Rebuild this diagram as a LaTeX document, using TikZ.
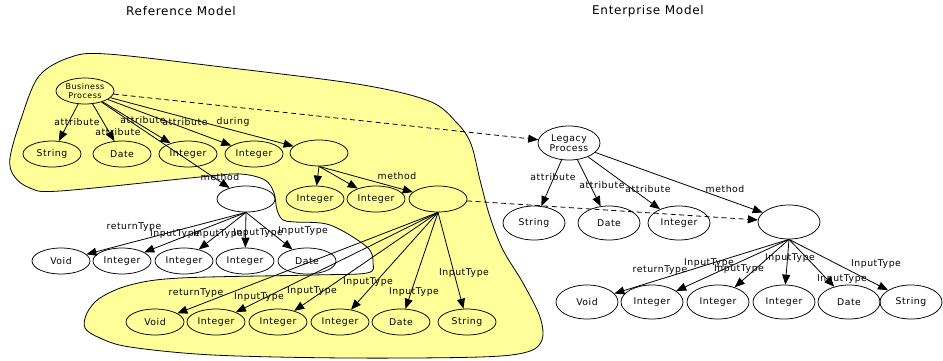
\documentclass[tikz,border=0pt]{standalone}
\usepackage{fontspec}
\setmainfont{DejaVu Sans}[LetterSpace=6]
\usetikzlibrary{shapes.geometric,arrows.meta}
\definecolor{blobyellow}{HTML}{FFFF99}
\begin{document}
\begin{tikzpicture}[x=1pt,y=-1pt,
  lnode/.style={ellipse,draw,line width=0.75pt,minimum width=58pt,minimum height=26pt,inner sep=0pt,font=\fontsize{9.3}{10}\selectfont},
  rnode/.style={lnode,minimum width=62pt,minimum height=34pt},
  lbl/.style={font=\fontsize{9.3}{10}\selectfont,inner sep=0pt},
  ttl/.style={font=\fontsize{12}{13}\selectfont,inner sep=0pt},
  edge/.style={-{Triangle[length=10pt,width=8pt]},line width=0.8pt},
  dashedge/.style={edge,dashed,dash pattern=on 5pt off 3.5pt}]
\useasboundingbox (0,0) rectangle (943,360);
% yellow region
\filldraw[fill=blobyellow,draw=black,line width=0.8pt] plot[smooth cycle,tension=0.55] coordinates {
(71,57) (107,54) (214,66) (357,84) (429,101) (457,123) (471,144) (480,180)
(490,217) (503,250) (523,283) (540,317) (542,340) (527,352) (480,357) (347,358)
(213,355) (130,347) (100,338) (85,328) (87,313) (100,298) (130,285) (180,278)
(313,275) (367,273) (373,263) (367,247) (330,225) (295,222) (283,220) (277,210)
(274,193) (265,180) (240,174) (200,177) (60,191) (30,188) (14,176) (10,158)
(21,119) (39,76)};
% titles
\node[ttl] (t1) at (181,11) {Reference Model};
\node[ttl] (t2) at (648,11) {Enterprise Model};
% left nodes
\node[lnode,font=\fontsize{8}{9}\selectfont,align=center] (bp) at (85,91) {Business\\Process};
\node[lnode] (a1) at (52,154) {String};
\node[lnode] (a2) at (122,154) {Date};
\node[lnode] (a3) at (188,154) {Integer};
\node[lnode] (a4) at (254,154) {Integer};
\node[lnode] (d1) at (319,153) {};
\node[lnode] (m1) at (246,199) {};
\node[lnode] (di1) at (315,199) {Integer};
\node[lnode] (di2) at (376,199) {Integer};
\node[lnode] (m2) at (438,199) {};
\node[lnode] (v1) at (61,261) {Void};
\node[lnode] (i11) at (122,261) {Integer};
\node[lnode] (i12) at (184,261) {Integer};
\node[lnode] (i13) at (245,261) {Integer};
\node[lnode] (dt1) at (307,261) {Date};
\node[lnode] (v2) at (155,322) {Void};
\node[lnode] (i21) at (216,322) {Integer};
\node[lnode] (i22) at (278,322) {Integer};
\node[lnode] (i23) at (340,322) {Integer};
\node[lnode] (dt2) at (401,322) {Date};
\node[lnode] (s2) at (467,322) {String};
% right nodes
\node[rnode,align=center] (lp) at (569,143) {Legacy\\Process};
\node[rnode] (rs) at (534,223) {String};
\node[rnode] (rd) at (609,223) {Date};
\node[rnode] (ri) at (679,223) {Integer};
\node[rnode] (r0) at (789,222) {};
\node[rnode] (rv) at (587,302) {Void};
\node[rnode] (ri1) at (652,302) {Integer};
\node[rnode] (ri2) at (718,302) {Integer};
\node[rnode] (ri3) at (784,302) {Integer};
\node[rnode] (rdt) at (849,302) {Date};
\node[rnode] (rst) at (911,302) {String};
% edges left
\draw[edge] (bp) -- (a1);
\draw[edge] (bp) -- (a2);
\draw[edge] (bp) -- (a3);
\draw[edge] (bp) -- (a4);
\draw[edge] (bp) -- (d1);
\draw[edge] (bp) -- (m1);
\draw[edge] (d1.south) -- (di1);
\draw[edge] (d1.south) -- (di2);
\draw[edge] (d1.south) -- (m2);
\draw[edge] (m1.south) -- (v1);
\draw[edge] (m1.south) -- (i11);
\draw[edge] (m1.south) -- (i12);
\draw[edge] (m1.south) -- (i13);
\draw[edge] (m1.south) -- (dt1);
\draw[edge] (m2.south) -- (v2);
\draw[edge] (m2.south) -- (i21);
\draw[edge] (m2.south) -- (i22);
\draw[edge] (m2.south) -- (i23);
\draw[edge] (m2.south) -- (dt2);
\draw[edge] (m2.south) -- (s2);
% edges right
\draw[edge] (lp) -- (rs);
\draw[edge] (lp) -- (rd);
\draw[edge] (lp) -- (ri);
\draw[edge] (lp) -- (r0);
\draw[edge] (r0.south) -- (rv);
\draw[edge] (r0.south) -- (ri1);
\draw[edge] (r0.south) -- (ri2);
\draw[edge] (r0.south) -- (ri3);
\draw[edge] (r0.south) -- (rdt);
\draw[edge] (r0.south) -- (rst);
% dashed mappings
\draw[dashedge] (bp) -- (lp);
\draw[dashedge] (m2) -- (r0);
% labels
\node[lbl] (l1) at (77,122) {attribute};
\node[lbl] (l2) at (118,132) {attribute};
\node[lbl] (l3) at (143,120) {attribute};
\node[lbl] (l4) at (185,122) {attribute};
\node[lbl] (l5) at (233,122) {during};
\node[lbl] (l6) at (220,177) {method};
\node[lbl] (l7) at (397,176) {method};
\node[lbl] (l8) at (196,293) {returnType};
\node[lbl] (l9) at (259,297) {InputType};
\node[lbl] (l10) at (312,291) {InputType};
\node[lbl] (l11) at (368,282) {InputType};
\node[lbl] (l12) at (414,292) {InputType};
\node[lbl] (l13) at (464,273) {InputType};
\node[lbl] (l14) at (134,227) {returnType};
\node[lbl] (l15) at (175,234) {InputType};
\node[lbl] (l16) at (218,234) {InputType};
\node[lbl] (l17) at (258,233) {InputType};
\node[lbl] (l18) at (303,231) {InputType};
\node[lbl] (l19) at (553,177) {attribute};
\node[lbl] (l20) at (602,185) {attribute};
\node[lbl] (l21) at (648,189) {attribute};
\node[lbl] (l22) at (725,189) {method};
\node[lbl] (l23) at (660,270) {returnType};
\node[lbl] (l24) at (709,263) {InputType};
\node[lbl] (l25) at (739,269) {InputType};
\node[lbl] (l26) at (790,258) {InputType};
\node[lbl] (l27) at (842,279) {InputType};
\node[lbl] (l28) at (876,264) {InputType};
\end{tikzpicture}
\end{document}
